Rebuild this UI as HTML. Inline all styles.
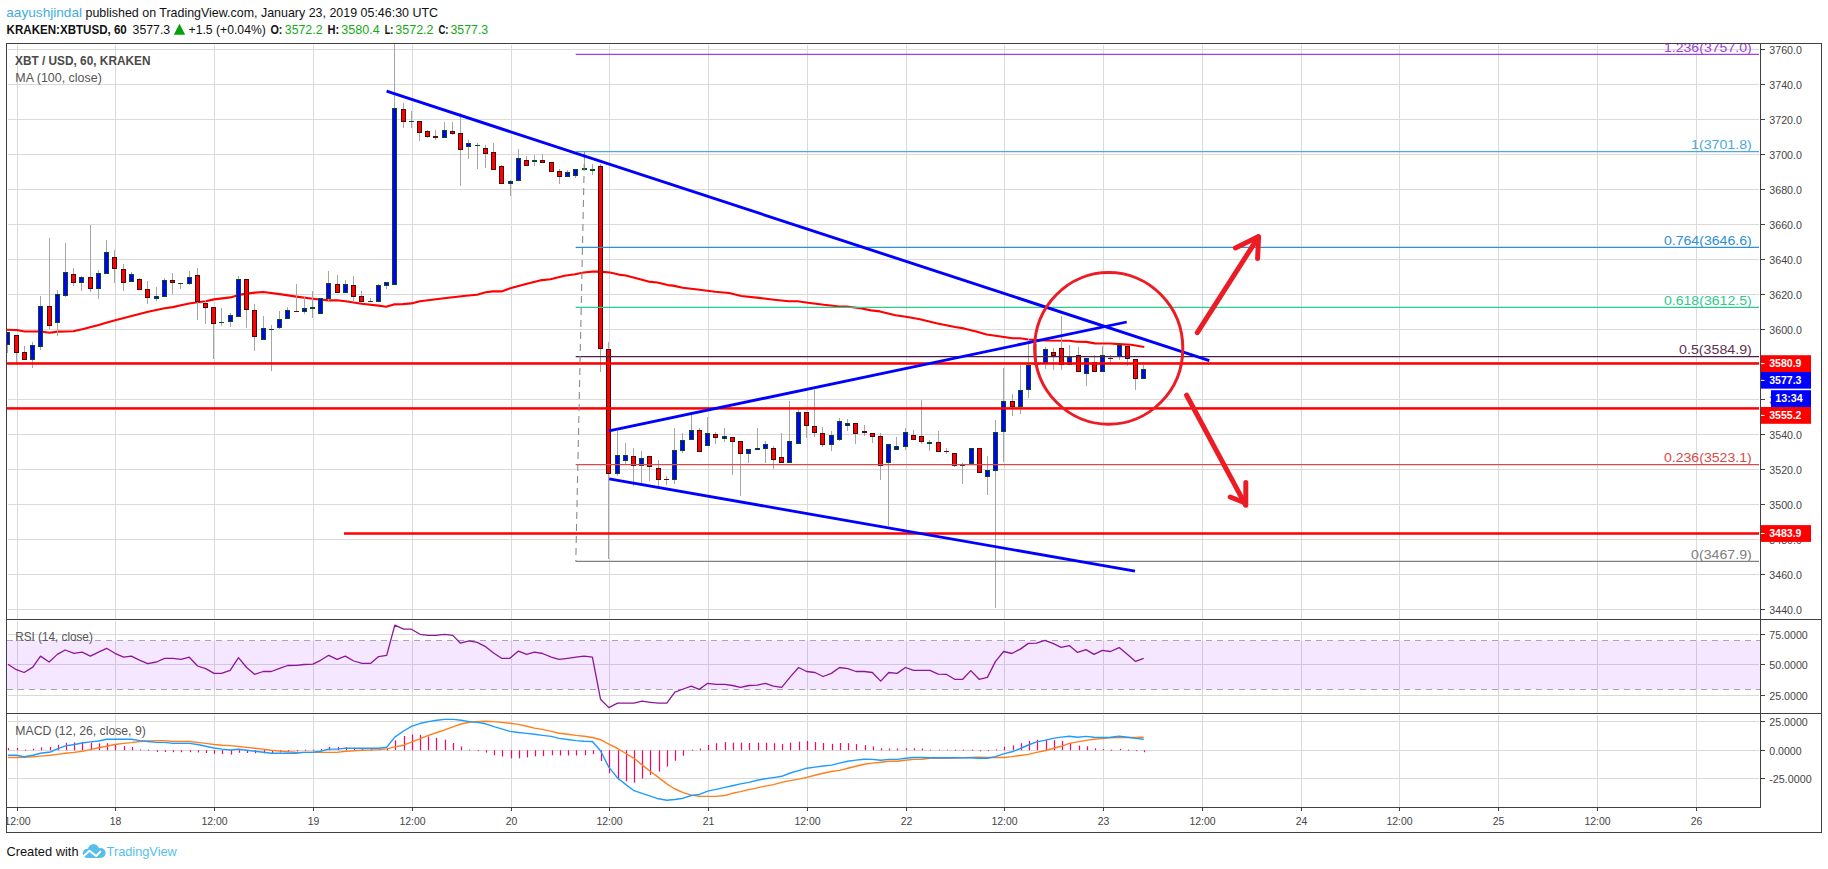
<!DOCTYPE html>
<html><head><meta charset="utf-8"><title>XBTUSD chart</title>
<style>html,body{margin:0;padding:0;background:#fff;overflow:hidden}svg{display:block}text{white-space:pre}</style></head>
<body>
<svg width="1828" height="869" viewBox="0 0 1828 869" style="display:block" shape-rendering="auto">
<rect x="0" y="0" width="1828" height="869" fill="#fff"/>
<defs><clipPath id="mc"><rect x="7" y="44" width="1753" height="575"/></clipPath></defs>
<rect x="17" y="45" width="1" height="574" fill="#dadada"/>
<rect x="17" y="621" width="1" height="92" fill="#dadada"/>
<rect x="17" y="715" width="1" height="92" fill="#dadada"/>
<rect x="115" y="45" width="1" height="574" fill="#dadada"/>
<rect x="115" y="621" width="1" height="92" fill="#dadada"/>
<rect x="115" y="715" width="1" height="92" fill="#dadada"/>
<rect x="214" y="45" width="1" height="574" fill="#dadada"/>
<rect x="214" y="621" width="1" height="92" fill="#dadada"/>
<rect x="214" y="715" width="1" height="92" fill="#dadada"/>
<rect x="313" y="45" width="1" height="574" fill="#dadada"/>
<rect x="313" y="621" width="1" height="92" fill="#dadada"/>
<rect x="313" y="715" width="1" height="92" fill="#dadada"/>
<rect x="412" y="45" width="1" height="574" fill="#dadada"/>
<rect x="412" y="621" width="1" height="92" fill="#dadada"/>
<rect x="412" y="715" width="1" height="92" fill="#dadada"/>
<rect x="511" y="45" width="1" height="574" fill="#dadada"/>
<rect x="511" y="621" width="1" height="92" fill="#dadada"/>
<rect x="511" y="715" width="1" height="92" fill="#dadada"/>
<rect x="609" y="45" width="1" height="574" fill="#dadada"/>
<rect x="609" y="621" width="1" height="92" fill="#dadada"/>
<rect x="609" y="715" width="1" height="92" fill="#dadada"/>
<rect x="708" y="45" width="1" height="574" fill="#dadada"/>
<rect x="708" y="621" width="1" height="92" fill="#dadada"/>
<rect x="708" y="715" width="1" height="92" fill="#dadada"/>
<rect x="807" y="45" width="1" height="574" fill="#dadada"/>
<rect x="807" y="621" width="1" height="92" fill="#dadada"/>
<rect x="807" y="715" width="1" height="92" fill="#dadada"/>
<rect x="906" y="45" width="1" height="574" fill="#dadada"/>
<rect x="906" y="621" width="1" height="92" fill="#dadada"/>
<rect x="906" y="715" width="1" height="92" fill="#dadada"/>
<rect x="1004" y="45" width="1" height="574" fill="#dadada"/>
<rect x="1004" y="621" width="1" height="92" fill="#dadada"/>
<rect x="1004" y="715" width="1" height="92" fill="#dadada"/>
<rect x="1103" y="45" width="1" height="574" fill="#dadada"/>
<rect x="1103" y="621" width="1" height="92" fill="#dadada"/>
<rect x="1103" y="715" width="1" height="92" fill="#dadada"/>
<rect x="1202" y="45" width="1" height="574" fill="#dadada"/>
<rect x="1202" y="621" width="1" height="92" fill="#dadada"/>
<rect x="1202" y="715" width="1" height="92" fill="#dadada"/>
<rect x="1301" y="45" width="1" height="574" fill="#dadada"/>
<rect x="1301" y="621" width="1" height="92" fill="#dadada"/>
<rect x="1301" y="715" width="1" height="92" fill="#dadada"/>
<rect x="1399" y="45" width="1" height="574" fill="#dadada"/>
<rect x="1399" y="621" width="1" height="92" fill="#dadada"/>
<rect x="1399" y="715" width="1" height="92" fill="#dadada"/>
<rect x="1498" y="45" width="1" height="574" fill="#dadada"/>
<rect x="1498" y="621" width="1" height="92" fill="#dadada"/>
<rect x="1498" y="715" width="1" height="92" fill="#dadada"/>
<rect x="1597" y="45" width="1" height="574" fill="#dadada"/>
<rect x="1597" y="621" width="1" height="92" fill="#dadada"/>
<rect x="1597" y="715" width="1" height="92" fill="#dadada"/>
<rect x="1696" y="45" width="1" height="574" fill="#dadada"/>
<rect x="1696" y="621" width="1" height="92" fill="#dadada"/>
<rect x="1696" y="715" width="1" height="92" fill="#dadada"/>
<rect x="8" y="609" width="1751" height="1" fill="#dadada"/>
<rect x="8" y="574" width="1751" height="1" fill="#dadada"/>
<rect x="8" y="539" width="1751" height="1" fill="#dadada"/>
<rect x="8" y="504" width="1751" height="1" fill="#dadada"/>
<rect x="8" y="469" width="1751" height="1" fill="#dadada"/>
<rect x="8" y="434" width="1751" height="1" fill="#dadada"/>
<rect x="8" y="399" width="1751" height="1" fill="#dadada"/>
<rect x="8" y="364" width="1751" height="1" fill="#dadada"/>
<rect x="8" y="329" width="1751" height="1" fill="#dadada"/>
<rect x="8" y="294" width="1751" height="1" fill="#dadada"/>
<rect x="8" y="259" width="1751" height="1" fill="#dadada"/>
<rect x="8" y="224" width="1751" height="1" fill="#dadada"/>
<rect x="8" y="189" width="1751" height="1" fill="#dadada"/>
<rect x="8" y="154" width="1751" height="1" fill="#dadada"/>
<rect x="8" y="119" width="1751" height="1" fill="#dadada"/>
<rect x="8" y="84" width="1751" height="1" fill="#dadada"/>
<rect x="8" y="49" width="1751" height="1" fill="#dadada"/>
<rect x="8" y="634" width="1751" height="1" fill="#dadada"/>
<rect x="8" y="664" width="1751" height="1" fill="#dadada"/>
<rect x="8" y="695" width="1751" height="1" fill="#dadada"/>
<rect x="8" y="721" width="1751" height="1" fill="#dadada"/>
<rect x="8" y="750" width="1751" height="1" fill="#dadada"/>
<rect x="8" y="778" width="1751" height="1" fill="#dadada"/>
<rect x="7" y="640.6" width="1753" height="49.2" fill="#9915ff" fill-opacity="0.1"/>
<path d="M7 640.5H1760M7 689.5H1760" stroke="#a9a4ad" stroke-width="1" stroke-dasharray="6 5" fill="none"/>
<path d="M6.6 329.8 L16.5 330.0 L24.7 331.5 L41.1 331.5 L49.4 332.8 L57.6 331.6 L73.2 331.3 L82.3 329.2 L98.7 325.0 L107.0 322.4 L115.2 320.3 L131.6 316.0 L148.1 311.7 L164.6 308.3 L172.8 307.1 L181.0 305.3 L189.2 303.5 L197.5 302.3 L205.7 301.2 L213.9 299.4 L230.4 297.4 L238.6 294.9 L246.8 293.6 L255.1 292.6 L263.3 292.0 L279.7 294.1 L296.4 296.6 L312.8 298.7 L328.7 300.4 L336.9 300.3 L345.6 301.3 L361.5 303.7 L378.5 305.6 L386.1 306.7 L393.8 304.4 L402.5 304.1 L411.3 303.4 L420.0 301.2 L444.1 298.2 L466.0 295.7 L477.0 294.7 L485.8 292.3 L492.8 291.4 L501.5 291.4 L510.3 288.3 L526.0 283.9 L540.0 280.4 L550.5 279.2 L564.5 275.7 L575.0 274.3 L583.8 272.5 L592.5 271.6 L599.5 271.6 L610.0 272.5 L618.8 274.6 L625.8 275.5 L636.3 278.3 L648.6 281.6 L657.3 282.5 L667.8 285.1 L673.1 285.6 L682.7 287.7 L697.6 289.5 L715.1 291.8 L729.1 293.0 L741.3 296.0 L758.8 297.9 L776.3 300.0 L788.8 301.3 L797.5 301.3 L808.0 302.7 L823.8 304.8 L839.5 306.5 L846.5 306.5 L860.5 308.3 L871.0 310.4 L879.8 311.4 L895.5 315.3 L906.0 316.7 L920.0 319.3 L937.5 323.5 L955.1 327.0 L963.8 328.4 L976.1 331.4 L986.6 334.5 L998.8 336.3 L1012.6 338.3 L1019.9 338.3 L1028.3 339.5 L1045.2 340.5 L1069.4 340.7 L1076.7 341.7 L1086.3 341.9 L1094.8 343.4 L1110.5 343.5 L1118.9 344.1 L1131.0 344.7 L1144.3 347.0" stroke="#ff0000" stroke-width="2.1" fill="none" stroke-linejoin="round"/>
<g clip-path="url(#mc)">
<rect x="7" y="332" width="1" height="21" fill="#a6a6a6"/>
<rect x="16" y="335" width="1" height="30" fill="#a6a6a6"/>
<rect x="24" y="346" width="1" height="14" fill="#a6a6a6"/>
<rect x="32" y="342" width="1" height="26" fill="#a6a6a6"/>
<rect x="40" y="296" width="1" height="54" fill="#a6a6a6"/>
<rect x="49" y="238" width="1" height="91" fill="#a6a6a6"/>
<rect x="57" y="290" width="1" height="46" fill="#a6a6a6"/>
<rect x="65" y="243" width="1" height="54" fill="#a6a6a6"/>
<rect x="73" y="268" width="1" height="18" fill="#a6a6a6"/>
<rect x="81" y="276" width="1" height="15" fill="#a6a6a6"/>
<rect x="90" y="225" width="1" height="67" fill="#a6a6a6"/>
<rect x="98" y="270" width="1" height="29" fill="#a6a6a6"/>
<rect x="106" y="240" width="1" height="34" fill="#a6a6a6"/>
<rect x="114" y="250" width="1" height="33" fill="#a6a6a6"/>
<rect x="123" y="264" width="1" height="27" fill="#a6a6a6"/>
<rect x="131" y="272" width="1" height="10" fill="#a6a6a6"/>
<rect x="139" y="278" width="1" height="12" fill="#a6a6a6"/>
<rect x="147" y="281" width="1" height="23" fill="#a6a6a6"/>
<rect x="156" y="287" width="1" height="14" fill="#a6a6a6"/>
<rect x="164" y="278" width="1" height="19" fill="#a6a6a6"/>
<rect x="172" y="273" width="1" height="21" fill="#a6a6a6"/>
<rect x="180" y="283" width="1" height="6" fill="#a6a6a6"/>
<rect x="189" y="271" width="1" height="14" fill="#a6a6a6"/>
<rect x="197" y="268" width="1" height="52" fill="#a6a6a6"/>
<rect x="205" y="300" width="1" height="24" fill="#a6a6a6"/>
<rect x="213" y="307" width="1" height="52" fill="#a6a6a6"/>
<rect x="221" y="308" width="1" height="18" fill="#a6a6a6"/>
<rect x="230" y="313" width="1" height="14" fill="#a6a6a6"/>
<rect x="238" y="276" width="1" height="41" fill="#a6a6a6"/>
<rect x="246" y="279" width="1" height="49" fill="#a6a6a6"/>
<rect x="254" y="304" width="1" height="47" fill="#a6a6a6"/>
<rect x="263" y="316" width="1" height="24" fill="#a6a6a6"/>
<rect x="271" y="325" width="1" height="46" fill="#a6a6a6"/>
<rect x="279" y="311" width="1" height="18" fill="#a6a6a6"/>
<rect x="287" y="307" width="1" height="12" fill="#a6a6a6"/>
<rect x="296" y="284" width="1" height="28" fill="#a6a6a6"/>
<rect x="304" y="297" width="1" height="17" fill="#a6a6a6"/>
<rect x="312" y="291" width="1" height="27" fill="#a6a6a6"/>
<rect x="320" y="298" width="1" height="16" fill="#a6a6a6"/>
<rect x="328" y="271" width="1" height="30" fill="#a6a6a6"/>
<rect x="337" y="275" width="1" height="18" fill="#a6a6a6"/>
<rect x="345" y="280" width="1" height="13" fill="#a6a6a6"/>
<rect x="353" y="276" width="1" height="25" fill="#a6a6a6"/>
<rect x="361" y="291" width="1" height="11" fill="#a6a6a6"/>
<rect x="370" y="298" width="1" height="4" fill="#a6a6a6"/>
<rect x="378" y="284" width="1" height="18" fill="#a6a6a6"/>
<rect x="386" y="282" width="1" height="7" fill="#a6a6a6"/>
<rect x="394" y="44" width="1" height="241" fill="#a6a6a6"/>
<rect x="403" y="103" width="1" height="25" fill="#a6a6a6"/>
<rect x="411" y="111" width="1" height="17" fill="#a6a6a6"/>
<rect x="419" y="121" width="1" height="20" fill="#a6a6a6"/>
<rect x="427" y="130" width="1" height="8" fill="#a6a6a6"/>
<rect x="435" y="130" width="1" height="10" fill="#a6a6a6"/>
<rect x="444" y="122" width="1" height="16" fill="#a6a6a6"/>
<rect x="452" y="122" width="1" height="13" fill="#a6a6a6"/>
<rect x="460" y="113" width="1" height="73" fill="#a6a6a6"/>
<rect x="468" y="140" width="1" height="19" fill="#a6a6a6"/>
<rect x="477" y="143" width="1" height="26" fill="#a6a6a6"/>
<rect x="485" y="145" width="1" height="23" fill="#a6a6a6"/>
<rect x="493" y="143" width="1" height="27" fill="#a6a6a6"/>
<rect x="501" y="165" width="1" height="19" fill="#a6a6a6"/>
<rect x="510" y="180" width="1" height="16" fill="#a6a6a6"/>
<rect x="518" y="149" width="1" height="32" fill="#a6a6a6"/>
<rect x="526" y="156" width="1" height="10" fill="#a6a6a6"/>
<rect x="534" y="155" width="1" height="11" fill="#a6a6a6"/>
<rect x="542" y="154" width="1" height="9" fill="#a6a6a6"/>
<rect x="551" y="162" width="1" height="10" fill="#a6a6a6"/>
<rect x="559" y="169" width="1" height="15" fill="#a6a6a6"/>
<rect x="567" y="170" width="1" height="7" fill="#a6a6a6"/>
<rect x="575" y="169" width="1" height="9" fill="#a6a6a6"/>
<rect x="584" y="152" width="1" height="18" fill="#a6a6a6"/>
<rect x="592" y="164" width="1" height="11" fill="#a6a6a6"/>
<rect x="600" y="164" width="1" height="208" fill="#a6a6a6"/>
<rect x="608" y="342" width="1" height="217" fill="#a6a6a6"/>
<rect x="617" y="431" width="1" height="45" fill="#a6a6a6"/>
<rect x="625" y="443" width="1" height="21" fill="#a6a6a6"/>
<rect x="633" y="448" width="1" height="38" fill="#a6a6a6"/>
<rect x="641" y="451" width="1" height="35" fill="#a6a6a6"/>
<rect x="649" y="456" width="1" height="25" fill="#a6a6a6"/>
<rect x="658" y="460" width="1" height="26" fill="#a6a6a6"/>
<rect x="666" y="476" width="1" height="9" fill="#a6a6a6"/>
<rect x="674" y="428" width="1" height="56" fill="#a6a6a6"/>
<rect x="682" y="433" width="1" height="20" fill="#a6a6a6"/>
<rect x="691" y="415" width="1" height="25" fill="#a6a6a6"/>
<rect x="699" y="428" width="1" height="24" fill="#a6a6a6"/>
<rect x="707" y="417" width="1" height="29" fill="#a6a6a6"/>
<rect x="715" y="432" width="1" height="12" fill="#a6a6a6"/>
<rect x="724" y="428" width="1" height="14" fill="#a6a6a6"/>
<rect x="732" y="437" width="1" height="38" fill="#a6a6a6"/>
<rect x="740" y="441" width="1" height="55" fill="#a6a6a6"/>
<rect x="748" y="449" width="1" height="14" fill="#a6a6a6"/>
<rect x="757" y="428" width="1" height="22" fill="#a6a6a6"/>
<rect x="765" y="441" width="1" height="22" fill="#a6a6a6"/>
<rect x="773" y="446" width="1" height="23" fill="#a6a6a6"/>
<rect x="781" y="433" width="1" height="30" fill="#a6a6a6"/>
<rect x="789" y="401" width="1" height="62" fill="#a6a6a6"/>
<rect x="798" y="409" width="1" height="35" fill="#a6a6a6"/>
<rect x="806" y="412" width="1" height="26" fill="#a6a6a6"/>
<rect x="814" y="390" width="1" height="47" fill="#a6a6a6"/>
<rect x="822" y="427" width="1" height="20" fill="#a6a6a6"/>
<rect x="831" y="431" width="1" height="20" fill="#a6a6a6"/>
<rect x="839" y="418" width="1" height="23" fill="#a6a6a6"/>
<rect x="847" y="419" width="1" height="12" fill="#a6a6a6"/>
<rect x="855" y="423" width="1" height="21" fill="#a6a6a6"/>
<rect x="864" y="425" width="1" height="11" fill="#a6a6a6"/>
<rect x="872" y="433" width="1" height="10" fill="#a6a6a6"/>
<rect x="880" y="433" width="1" height="47" fill="#a6a6a6"/>
<rect x="888" y="444" width="1" height="82" fill="#a6a6a6"/>
<rect x="896" y="437" width="1" height="13" fill="#a6a6a6"/>
<rect x="905" y="428" width="1" height="22" fill="#a6a6a6"/>
<rect x="913" y="430" width="1" height="10" fill="#a6a6a6"/>
<rect x="921" y="400" width="1" height="44" fill="#a6a6a6"/>
<rect x="929" y="440" width="1" height="11" fill="#a6a6a6"/>
<rect x="938" y="431" width="1" height="21" fill="#a6a6a6"/>
<rect x="946" y="448" width="1" height="6" fill="#a6a6a6"/>
<rect x="954" y="453" width="1" height="14" fill="#a6a6a6"/>
<rect x="962" y="463" width="1" height="21" fill="#a6a6a6"/>
<rect x="971" y="448" width="1" height="16" fill="#a6a6a6"/>
<rect x="979" y="448" width="1" height="25" fill="#a6a6a6"/>
<rect x="987" y="456" width="1" height="39" fill="#a6a6a6"/>
<rect x="995" y="420" width="1" height="188" fill="#a6a6a6"/>
<rect x="1003" y="368" width="1" height="94" fill="#a6a6a6"/>
<rect x="1012" y="394" width="1" height="22" fill="#a6a6a6"/>
<rect x="1020" y="365" width="1" height="49" fill="#a6a6a6"/>
<rect x="1028" y="339" width="1" height="59" fill="#a6a6a6"/>
<rect x="1036" y="344" width="1" height="21" fill="#a6a6a6"/>
<rect x="1045" y="347" width="1" height="22" fill="#a6a6a6"/>
<rect x="1053" y="348" width="1" height="22" fill="#a6a6a6"/>
<rect x="1061" y="316" width="1" height="54" fill="#a6a6a6"/>
<rect x="1069" y="345" width="1" height="20" fill="#a6a6a6"/>
<rect x="1078" y="347" width="1" height="25" fill="#a6a6a6"/>
<rect x="1086" y="358" width="1" height="28" fill="#a6a6a6"/>
<rect x="1094" y="355" width="1" height="17" fill="#a6a6a6"/>
<rect x="1102" y="346" width="1" height="26" fill="#a6a6a6"/>
<rect x="1110" y="355" width="1" height="10" fill="#a6a6a6"/>
<rect x="1119" y="345" width="1" height="15" fill="#a6a6a6"/>
<rect x="1127" y="346" width="1" height="20" fill="#a6a6a6"/>
<rect x="1135" y="359" width="1" height="31" fill="#a6a6a6"/>
<rect x="1143" y="365" width="1" height="14" fill="#a6a6a6"/>
<rect x="5" y="332" width="5" height="13" fill="#0b4a22"/><rect x="6" y="333" width="3" height="11" fill="#0000ff"/>
<rect x="14" y="335" width="5" height="18" fill="#4a0808"/><rect x="15" y="336" width="3" height="16" fill="#ff0000"/>
<rect x="22" y="352" width="5" height="8" fill="#4a0808"/><rect x="23" y="353" width="3" height="6" fill="#ff0000"/>
<rect x="30" y="345" width="5" height="15" fill="#0b4a22"/><rect x="31" y="346" width="3" height="13" fill="#0000ff"/>
<rect x="38" y="306" width="5" height="41" fill="#0b4a22"/><rect x="39" y="307" width="3" height="39" fill="#0000ff"/>
<rect x="47" y="306" width="5" height="20" fill="#4a0808"/><rect x="48" y="307" width="3" height="18" fill="#ff0000"/>
<rect x="55" y="294" width="5" height="29" fill="#0b4a22"/><rect x="56" y="295" width="3" height="27" fill="#0000ff"/>
<rect x="63" y="272" width="5" height="24" fill="#0b4a22"/><rect x="64" y="273" width="3" height="22" fill="#0000ff"/>
<rect x="71" y="274" width="5" height="9" fill="#4a0808"/><rect x="72" y="275" width="3" height="7" fill="#ff0000"/>
<rect x="79" y="277" width="5" height="6" fill="#0b4a22"/><rect x="80" y="278" width="3" height="4" fill="#0000ff"/>
<rect x="88" y="277" width="5" height="12" fill="#4a0808"/><rect x="89" y="278" width="3" height="10" fill="#ff0000"/>
<rect x="96" y="273" width="5" height="16" fill="#0b4a22"/><rect x="97" y="274" width="3" height="14" fill="#0000ff"/>
<rect x="104" y="252" width="5" height="22" fill="#0b4a22"/><rect x="105" y="253" width="3" height="20" fill="#0000ff"/>
<rect x="112" y="257" width="5" height="12" fill="#4a0808"/><rect x="113" y="258" width="3" height="10" fill="#ff0000"/>
<rect x="121" y="269" width="5" height="14" fill="#4a0808"/><rect x="122" y="270" width="3" height="12" fill="#ff0000"/>
<rect x="129" y="274" width="5" height="8" fill="#0b4a22"/><rect x="130" y="275" width="3" height="6" fill="#0000ff"/>
<rect x="137" y="279" width="5" height="11" fill="#4a0808"/><rect x="138" y="280" width="3" height="9" fill="#ff0000"/>
<rect x="145" y="289" width="5" height="9" fill="#4a0808"/><rect x="146" y="290" width="3" height="7" fill="#ff0000"/>
<rect x="154" y="296" width="5" height="3" fill="#0b4a22"/><rect x="155" y="297" width="3" height="1" fill="#0000ff"/>
<rect x="162" y="280" width="5" height="17" fill="#0b4a22"/><rect x="163" y="281" width="3" height="15" fill="#0000ff"/>
<rect x="170" y="280" width="5" height="3" fill="#4a0808"/><rect x="171" y="281" width="3" height="1" fill="#ff0000"/>
<rect x="178" y="283" width="5" height="1" fill="#0b4a22"/>
<rect x="187" y="277" width="5" height="7" fill="#0b4a22"/><rect x="188" y="278" width="3" height="5" fill="#0000ff"/>
<rect x="195" y="275" width="5" height="27" fill="#4a0808"/><rect x="196" y="276" width="3" height="25" fill="#ff0000"/>
<rect x="203" y="303" width="5" height="5" fill="#4a0808"/><rect x="204" y="304" width="3" height="3" fill="#ff0000"/>
<rect x="211" y="307" width="5" height="17" fill="#4a0808"/><rect x="212" y="308" width="3" height="15" fill="#ff0000"/>
<rect x="219" y="322" width="5" height="1" fill="#0b4a22"/>
<rect x="228" y="315" width="5" height="7" fill="#0b4a22"/><rect x="229" y="316" width="3" height="5" fill="#0000ff"/>
<rect x="236" y="279" width="5" height="38" fill="#0b4a22"/><rect x="237" y="280" width="3" height="36" fill="#0000ff"/>
<rect x="244" y="279" width="5" height="31" fill="#4a0808"/><rect x="245" y="280" width="3" height="29" fill="#ff0000"/>
<rect x="252" y="310" width="5" height="27" fill="#4a0808"/><rect x="253" y="311" width="3" height="25" fill="#ff0000"/>
<rect x="261" y="328" width="5" height="12" fill="#0b4a22"/><rect x="262" y="329" width="3" height="10" fill="#0000ff"/>
<rect x="269" y="329" width="5" height="1" fill="#0b4a22"/>
<rect x="277" y="319" width="5" height="9" fill="#0b4a22"/><rect x="278" y="320" width="3" height="7" fill="#0000ff"/>
<rect x="285" y="310" width="5" height="9" fill="#0b4a22"/><rect x="286" y="311" width="3" height="7" fill="#0000ff"/>
<rect x="294" y="311" width="5" height="1" fill="#5a0a0a"/>
<rect x="302" y="308" width="5" height="4" fill="#0b4a22"/><rect x="303" y="309" width="3" height="2" fill="#0000ff"/>
<rect x="310" y="307" width="5" height="2" fill="#0b4a22"/>
<rect x="318" y="298" width="5" height="16" fill="#0b4a22"/><rect x="319" y="299" width="3" height="14" fill="#0000ff"/>
<rect x="326" y="283" width="5" height="16" fill="#0b4a22"/><rect x="327" y="284" width="3" height="14" fill="#0000ff"/>
<rect x="335" y="284" width="5" height="9" fill="#4a0808"/><rect x="336" y="285" width="3" height="7" fill="#ff0000"/>
<rect x="343" y="284" width="5" height="9" fill="#0b4a22"/><rect x="344" y="285" width="3" height="7" fill="#0000ff"/>
<rect x="351" y="285" width="5" height="12" fill="#4a0808"/><rect x="352" y="286" width="3" height="10" fill="#ff0000"/>
<rect x="359" y="296" width="5" height="6" fill="#4a0808"/><rect x="360" y="297" width="3" height="4" fill="#ff0000"/>
<rect x="368" y="301" width="5" height="1" fill="#0b4a22"/>
<rect x="376" y="285" width="5" height="17" fill="#0b4a22"/><rect x="377" y="286" width="3" height="15" fill="#0000ff"/>
<rect x="384" y="282" width="5" height="4" fill="#0b4a22"/><rect x="385" y="283" width="3" height="2" fill="#0000ff"/>
<rect x="392" y="108" width="5" height="177" fill="#0b4a22"/><rect x="393" y="109" width="3" height="175" fill="#0000ff"/>
<rect x="401" y="109" width="5" height="13" fill="#4a0808"/><rect x="402" y="110" width="3" height="11" fill="#ff0000"/>
<rect x="409" y="121" width="5" height="1" fill="#0b4a22"/>
<rect x="417" y="121" width="5" height="12" fill="#4a0808"/><rect x="418" y="122" width="3" height="10" fill="#ff0000"/>
<rect x="425" y="131" width="5" height="6" fill="#4a0808"/><rect x="426" y="132" width="3" height="4" fill="#ff0000"/>
<rect x="433" y="136" width="5" height="2" fill="#5a0a0a"/>
<rect x="442" y="130" width="5" height="8" fill="#0b4a22"/><rect x="443" y="131" width="3" height="6" fill="#0000ff"/>
<rect x="450" y="131" width="5" height="3" fill="#4a0808"/><rect x="451" y="132" width="3" height="1" fill="#ff0000"/>
<rect x="458" y="133" width="5" height="17" fill="#4a0808"/><rect x="459" y="134" width="3" height="15" fill="#ff0000"/>
<rect x="466" y="143" width="5" height="4" fill="#0b4a22"/><rect x="467" y="144" width="3" height="2" fill="#0000ff"/>
<rect x="475" y="145" width="5" height="1" fill="#0b4a22"/>
<rect x="483" y="148" width="5" height="6" fill="#4a0808"/><rect x="484" y="149" width="3" height="4" fill="#ff0000"/>
<rect x="491" y="152" width="5" height="18" fill="#4a0808"/><rect x="492" y="153" width="3" height="16" fill="#ff0000"/>
<rect x="499" y="166" width="5" height="18" fill="#4a0808"/><rect x="500" y="167" width="3" height="16" fill="#ff0000"/>
<rect x="508" y="181" width="5" height="3" fill="#0b4a22"/><rect x="509" y="182" width="3" height="1" fill="#0000ff"/>
<rect x="516" y="158" width="5" height="23" fill="#0b4a22"/><rect x="517" y="159" width="3" height="21" fill="#0000ff"/>
<rect x="524" y="160" width="5" height="6" fill="#4a0808"/><rect x="525" y="161" width="3" height="4" fill="#ff0000"/>
<rect x="532" y="160" width="5" height="2" fill="#0b4a22"/>
<rect x="540" y="160" width="5" height="3" fill="#4a0808"/><rect x="541" y="161" width="3" height="1" fill="#ff0000"/>
<rect x="549" y="162" width="5" height="10" fill="#4a0808"/><rect x="550" y="163" width="3" height="8" fill="#ff0000"/>
<rect x="557" y="171" width="5" height="6" fill="#4a0808"/><rect x="558" y="172" width="3" height="4" fill="#ff0000"/>
<rect x="565" y="172" width="5" height="5" fill="#0b4a22"/><rect x="566" y="173" width="3" height="3" fill="#0000ff"/>
<rect x="573" y="169" width="5" height="7" fill="#0b4a22"/><rect x="574" y="170" width="3" height="5" fill="#0000ff"/>
<rect x="582" y="168" width="5" height="2" fill="#0b4a22"/>
<rect x="590" y="169" width="5" height="2" fill="#0b4a22"/>
<rect x="598" y="166" width="5" height="183" fill="#4a0808"/><rect x="599" y="167" width="3" height="181" fill="#ff0000"/>
<rect x="606" y="349" width="5" height="125" fill="#4a0808"/><rect x="607" y="350" width="3" height="123" fill="#ff0000"/>
<rect x="615" y="455" width="5" height="19" fill="#0b4a22"/><rect x="616" y="456" width="3" height="17" fill="#0000ff"/>
<rect x="623" y="455" width="5" height="6" fill="#0b4a22"/><rect x="624" y="456" width="3" height="4" fill="#0000ff"/>
<rect x="631" y="456" width="5" height="10" fill="#4a0808"/><rect x="632" y="457" width="3" height="8" fill="#ff0000"/>
<rect x="639" y="458" width="5" height="8" fill="#0b4a22"/><rect x="640" y="459" width="3" height="6" fill="#0000ff"/>
<rect x="647" y="456" width="5" height="11" fill="#4a0808"/><rect x="648" y="457" width="3" height="9" fill="#ff0000"/>
<rect x="656" y="468" width="5" height="12" fill="#4a0808"/><rect x="657" y="469" width="3" height="10" fill="#ff0000"/>
<rect x="664" y="479" width="5" height="1" fill="#5a0a0a"/>
<rect x="672" y="450" width="5" height="30" fill="#0b4a22"/><rect x="673" y="451" width="3" height="28" fill="#0000ff"/>
<rect x="680" y="440" width="5" height="11" fill="#0b4a22"/><rect x="681" y="441" width="3" height="9" fill="#0000ff"/>
<rect x="689" y="430" width="5" height="10" fill="#0b4a22"/><rect x="690" y="431" width="3" height="8" fill="#0000ff"/>
<rect x="697" y="430" width="5" height="22" fill="#4a0808"/><rect x="698" y="431" width="3" height="20" fill="#ff0000"/>
<rect x="705" y="433" width="5" height="13" fill="#0b4a22"/><rect x="706" y="434" width="3" height="11" fill="#0000ff"/>
<rect x="713" y="434" width="5" height="4" fill="#4a0808"/><rect x="714" y="435" width="3" height="2" fill="#ff0000"/>
<rect x="722" y="436" width="5" height="3" fill="#0b4a22"/><rect x="723" y="437" width="3" height="1" fill="#0000ff"/>
<rect x="730" y="437" width="5" height="5" fill="#4a0808"/><rect x="731" y="438" width="3" height="3" fill="#ff0000"/>
<rect x="738" y="441" width="5" height="13" fill="#4a0808"/><rect x="739" y="442" width="3" height="11" fill="#ff0000"/>
<rect x="746" y="449" width="5" height="5" fill="#0b4a22"/><rect x="747" y="450" width="3" height="3" fill="#0000ff"/>
<rect x="755" y="448" width="5" height="2" fill="#0b4a22"/><rect x="756" y="448.5" width="3" height="1" fill="#0000ff"/>
<rect x="763" y="444" width="5" height="5" fill="#0b4a22"/><rect x="764" y="445" width="3" height="3" fill="#0000ff"/>
<rect x="771" y="448" width="5" height="12" fill="#4a0808"/><rect x="772" y="449" width="3" height="10" fill="#ff0000"/>
<rect x="779" y="457" width="5" height="6" fill="#4a0808"/><rect x="780" y="458" width="3" height="4" fill="#ff0000"/>
<rect x="787" y="441" width="5" height="22" fill="#0b4a22"/><rect x="788" y="442" width="3" height="20" fill="#0000ff"/>
<rect x="796" y="412" width="5" height="32" fill="#0b4a22"/><rect x="797" y="413" width="3" height="30" fill="#0000ff"/>
<rect x="804" y="412" width="5" height="14" fill="#4a0808"/><rect x="805" y="413" width="3" height="12" fill="#ff0000"/>
<rect x="812" y="426" width="5" height="7" fill="#4a0808"/><rect x="813" y="427" width="3" height="5" fill="#ff0000"/>
<rect x="820" y="433" width="5" height="12" fill="#4a0808"/><rect x="821" y="434" width="3" height="10" fill="#ff0000"/>
<rect x="829" y="435" width="5" height="10" fill="#0b4a22"/><rect x="830" y="436" width="3" height="8" fill="#0000ff"/>
<rect x="837" y="421" width="5" height="19" fill="#0b4a22"/><rect x="838" y="422" width="3" height="17" fill="#0000ff"/>
<rect x="845" y="423" width="5" height="3" fill="#0b4a22"/><rect x="846" y="424" width="3" height="1" fill="#0000ff"/>
<rect x="853" y="423" width="5" height="11" fill="#4a0808"/><rect x="854" y="424" width="3" height="9" fill="#ff0000"/>
<rect x="862" y="431" width="5" height="2" fill="#5a0a0a"/>
<rect x="870" y="433" width="5" height="4" fill="#4a0808"/><rect x="871" y="434" width="3" height="2" fill="#ff0000"/>
<rect x="878" y="436" width="5" height="30" fill="#4a0808"/><rect x="879" y="437" width="3" height="28" fill="#ff0000"/>
<rect x="886" y="444" width="5" height="19" fill="#0b4a22"/><rect x="887" y="445" width="3" height="17" fill="#0000ff"/>
<rect x="894" y="446" width="5" height="4" fill="#0b4a22"/><rect x="895" y="447" width="3" height="2" fill="#0000ff"/>
<rect x="903" y="432" width="5" height="15" fill="#0b4a22"/><rect x="904" y="433" width="3" height="13" fill="#0000ff"/>
<rect x="911" y="435" width="5" height="5" fill="#4a0808"/><rect x="912" y="436" width="3" height="3" fill="#ff0000"/>
<rect x="919" y="436" width="5" height="6" fill="#4a0808"/><rect x="920" y="437" width="3" height="4" fill="#ff0000"/>
<rect x="927" y="442" width="5" height="2" fill="#0b4a22"/>
<rect x="936" y="442" width="5" height="10" fill="#4a0808"/><rect x="937" y="443" width="3" height="8" fill="#ff0000"/>
<rect x="944" y="451" width="5" height="1" fill="#5a0a0a"/>
<rect x="952" y="453" width="5" height="13" fill="#4a0808"/><rect x="953" y="454" width="3" height="11" fill="#ff0000"/>
<rect x="960" y="465" width="5" height="1" fill="#0b4a22"/>
<rect x="969" y="448" width="5" height="16" fill="#0b4a22"/><rect x="970" y="449" width="3" height="14" fill="#0000ff"/>
<rect x="977" y="448" width="5" height="25" fill="#4a0808"/><rect x="978" y="449" width="3" height="23" fill="#ff0000"/>
<rect x="985" y="470" width="5" height="7" fill="#0b4a22"/><rect x="986" y="471" width="3" height="5" fill="#0000ff"/>
<rect x="993" y="432" width="5" height="39" fill="#0b4a22"/><rect x="994" y="433" width="3" height="37" fill="#0000ff"/>
<rect x="1001" y="401" width="5" height="31" fill="#0b4a22"/><rect x="1002" y="402" width="3" height="29" fill="#0000ff"/>
<rect x="1010" y="401" width="5" height="6" fill="#4a0808"/><rect x="1011" y="402" width="3" height="4" fill="#ff0000"/>
<rect x="1018" y="390" width="5" height="17" fill="#0b4a22"/><rect x="1019" y="391" width="3" height="15" fill="#0000ff"/>
<rect x="1026" y="365" width="5" height="25" fill="#0b4a22"/><rect x="1027" y="366" width="3" height="23" fill="#0000ff"/>
<rect x="1034" y="364" width="5" height="1" fill="#0b4a22"/>
<rect x="1043" y="349" width="5" height="15" fill="#0b4a22"/><rect x="1044" y="350" width="3" height="13" fill="#0000ff"/>
<rect x="1051" y="352" width="5" height="4" fill="#4a0808"/><rect x="1052" y="353" width="3" height="2" fill="#ff0000"/>
<rect x="1059" y="348" width="5" height="17" fill="#4a0808"/><rect x="1060" y="349" width="3" height="15" fill="#ff0000"/>
<rect x="1067" y="357" width="5" height="8" fill="#0b4a22"/><rect x="1068" y="358" width="3" height="6" fill="#0000ff"/>
<rect x="1076" y="355" width="5" height="17" fill="#4a0808"/><rect x="1077" y="356" width="3" height="15" fill="#ff0000"/>
<rect x="1084" y="358" width="5" height="16" fill="#0b4a22"/><rect x="1085" y="359" width="3" height="14" fill="#0000ff"/>
<rect x="1092" y="362" width="5" height="10" fill="#4a0808"/><rect x="1093" y="363" width="3" height="8" fill="#ff0000"/>
<rect x="1100" y="355" width="5" height="17" fill="#0b4a22"/><rect x="1101" y="356" width="3" height="15" fill="#0000ff"/>
<rect x="1108" y="358" width="5" height="1" fill="#5a0a0a"/>
<rect x="1117" y="345" width="5" height="12" fill="#0b4a22"/><rect x="1118" y="346" width="3" height="10" fill="#0000ff"/>
<rect x="1125" y="346" width="5" height="13" fill="#4a0808"/><rect x="1126" y="347" width="3" height="11" fill="#ff0000"/>
<rect x="1133" y="359" width="5" height="20" fill="#4a0808"/><rect x="1134" y="360" width="3" height="18" fill="#ff0000"/>
<rect x="1141" y="369" width="5" height="10" fill="#0b4a22"/><rect x="1142" y="370" width="3" height="8" fill="#0000ff"/>
</g>
<rect x="6" y="362.2" width="1753" height="2.5" fill="#ff0000"/>
<rect x="6" y="407.15" width="1753" height="2.5" fill="#ff0000"/>
<rect x="344" y="532.25" width="1415" height="2.5" fill="#ff0000"/>
<g clip-path="url(#mc)">
<path d="M575.7 54.4H1759" stroke="#a040e0" stroke-width="1.25" fill="none"/>
<text x="1751.8" y="52.0" font-family="Liberation Sans, sans-serif" font-size="12.5" fill="#a040e0" text-anchor="end" textLength="87.9" lengthAdjust="spacingAndGlyphs">1.236(3757.0)</text>
<path d="M575.7 151.5H1759" stroke="#4fa8dc" stroke-width="1.25" fill="none"/>
<text x="1751.8" y="149.1" font-family="Liberation Sans, sans-serif" font-size="12.5" fill="#4fa8dc" text-anchor="end" textLength="60.7" lengthAdjust="spacingAndGlyphs">1(3701.8)</text>
<path d="M575.7 247.4H1759" stroke="#2e8fd3" stroke-width="1.25" fill="none"/>
<text x="1751.8" y="245.0" font-family="Liberation Sans, sans-serif" font-size="12.5" fill="#2e8fd3" text-anchor="end" textLength="87.9" lengthAdjust="spacingAndGlyphs">0.764(3646.6)</text>
<path d="M575.7 307.4H1759" stroke="#2fc98e" stroke-width="1.25" fill="none"/>
<text x="1751.8" y="305.0" font-family="Liberation Sans, sans-serif" font-size="12.5" fill="#2fc98e" text-anchor="end" textLength="87.9" lengthAdjust="spacingAndGlyphs">0.618(3612.5)</text>
<path d="M575.7 356.6H1759" stroke="#4d2048" stroke-width="1.25" fill="none"/>
<text x="1751.8" y="354.2" font-family="Liberation Sans, sans-serif" font-size="12.5" fill="#5e3152" text-anchor="end" textLength="72.7" lengthAdjust="spacingAndGlyphs">0.5(3584.9)</text>
<path d="M575.7 464.5H1759" stroke="#d84a4a" stroke-width="1.25" fill="none"/>
<text x="1751.8" y="462.1" font-family="Liberation Sans, sans-serif" font-size="12.5" fill="#d84a4a" text-anchor="end" textLength="87.9" lengthAdjust="spacingAndGlyphs">0.236(3523.1)</text>
<path d="M575.7 561.3H1759" stroke="#808080" stroke-width="1.25" fill="none"/>
<text x="1751.8" y="558.9" font-family="Liberation Sans, sans-serif" font-size="12.5" fill="#808080" text-anchor="end" textLength="60.7" lengthAdjust="spacingAndGlyphs">0(3467.9)</text>
</g>
<path d="M584.5 152L575.8 561.3" stroke="#8a8a8a" stroke-width="1.1" stroke-dasharray="7 5" fill="none"/>
<path d="M386.6 91.2L1209.3 360.7" stroke="#0000ff" stroke-width="2.9" fill="none"/>
<path d="M609 430.9L1126.7 322" stroke="#0000ff" stroke-width="2.8" fill="none"/>
<path d="M609.2 478.9L1135 571.1" stroke="#0000ff" stroke-width="2.8" fill="none"/>
<ellipse cx="1108.7" cy="348.4" rx="74.1" ry="75.9" stroke="#ec1c24" stroke-width="3.0" fill="none"/>
<g stroke="#ec1c24" stroke-width="5.0" fill="none" stroke-linecap="round" stroke-linejoin="round">
<path d="M1197.3 332.6L1258.3 237.2"/><path d="M1235.4 248L1258.6 236.6L1257.6 258.6"/>
<path d="M1186.6 395.2L1245.4 504.6"/><path d="M1245.8 482.6L1245.8 505.2"/><path d="M1230.2 497L1244.6 502.8"/>
</g>
<path d="M7.9 664.2 L16.4 669.7 L24.1 672.5 L32.8 667.1 L40.5 656.1 L49.2 662.0 L57.3 654.4 L65.2 650.0 L74.0 653.3 L82.1 652.2 L90.4 656.1 L98.5 652.2 L106.6 648.3 L114.9 653.3 L123.6 657.2 L131.3 656.1 L140.0 660.3 L147.7 663.6 L156.5 662.0 L164.6 658.3 L172.9 658.3 L181.0 659.4 L189.3 657.2 L197.6 666.0 L205.7 668.6 L214.0 673.4 L221.4 673.4 L230.2 670.4 L238.5 657.7 L246.6 667.5 L254.5 674.3 L263.2 671.5 L271.3 671.5 L279.6 668.4 L287.7 665.5 L296.1 665.3 L304.2 664.5 L312.9 664.2 L320.6 660.3 L328.7 655.3 L337.0 659.4 L345.3 656.1 L353.8 661.0 L362.1 663.4 L370.5 663.4 L378.6 656.6 L386.7 655.3 L394.8 625.1 L403.6 629.2 L411.4 629.2 L420.0 634.3 L428.3 635.4 L436.0 635.4 L444.7 634.3 L452.8 635.4 L460.5 643.2 L469.2 640.8 L477.1 642.4 L485.6 646.7 L493.9 653.3 L501.6 658.3 L509.9 658.3 L518.4 651.1 L526.8 654.4 L534.4 652.2 L542.5 653.5 L551.3 657.2 L559.1 659.4 L567.7 658.3 L576.0 657.2 L584.1 656.1 L592.4 657.2 L600.5 699.2 L608.8 707.6 L617.6 703.2 L625.2 703.2 L634.0 703.2 L642.1 701.2 L650.4 702.3 L658.5 703.2 L666.8 703.2 L674.9 692.2 L683.2 689.0 L691.3 686.1 L699.2 689.4 L707.7 683.3 L716.0 684.4 L724.8 684.4 L732.5 685.5 L740.5 687.4 L748.9 685.5 L757.2 685.2 L765.3 683.3 L773.4 686.1 L781.7 687.4 L790.3 676.9 L798.6 667.5 L806.7 671.5 L815.0 672.5 L823.1 676.5 L831.4 673.4 L839.5 667.5 L847.8 668.6 L855.9 671.5 L864.2 671.5 L872.3 672.5 L880.7 681.1 L888.8 672.5 L897.1 673.4 L905.4 667.5 L913.5 670.4 L921.8 670.4 L929.9 670.4 L938.2 674.1 L946.3 674.3 L954.6 679.3 L962.7 679.3 L970.8 670.6 L979.1 679.3 L987.4 677.4 L995.5 661.4 L1003.6 651.5 L1011.9 653.5 L1020.3 649.1 L1028.4 643.4 L1036.5 643.2 L1044.8 640.4 L1052.9 643.4 L1061.2 647.4 L1069.3 645.6 L1077.6 652.4 L1085.9 649.6 L1094.0 654.4 L1102.3 650.4 L1110.4 651.5 L1119.2 647.6 L1127.5 654.4 L1135.6 661.4 L1143.7 658.3" stroke="#8e1599" stroke-width="1.3" fill="none" stroke-linejoin="round"/>
<rect x="7.9" y="748.0" width="1.2" height="2.2" fill="#ff0066"/>
<rect x="16.9" y="748.0" width="1.2" height="2.2" fill="#ff0066"/>
<rect x="24.9" y="749.7" width="1.2" height="1" fill="#ff0066"/>
<rect x="32.9" y="748.7" width="1.2" height="1.5" fill="#ff0066"/>
<rect x="40.9" y="747.4" width="1.2" height="2.8" fill="#ff0066"/>
<rect x="49.9" y="746.9" width="1.2" height="3.3" fill="#ff0066"/>
<rect x="57.9" y="744.8" width="1.2" height="5.5" fill="#ff0066"/>
<rect x="65.9" y="742.8" width="1.2" height="7.4" fill="#ff0066"/>
<rect x="73.9" y="742.4" width="1.2" height="7.9" fill="#ff0066"/>
<rect x="81.9" y="741.9" width="1.2" height="8.3" fill="#ff0066"/>
<rect x="90.9" y="742.6" width="1.2" height="7.7" fill="#ff0066"/>
<rect x="98.9" y="743.4" width="1.2" height="6.8" fill="#ff0066"/>
<rect x="106.9" y="743.2" width="1.2" height="7.0" fill="#ff0066"/>
<rect x="114.9" y="745.0" width="1.2" height="5.3" fill="#ff0066"/>
<rect x="123.9" y="746.1" width="1.2" height="4.2" fill="#ff0066"/>
<rect x="131.9" y="746.9" width="1.2" height="3.3" fill="#ff0066"/>
<rect x="139.9" y="749.4" width="1.2" height="0.9" fill="#ff0066"/>
<rect x="147.9" y="749.7" width="1.2" height="1" fill="#ff0066"/>
<rect x="156.9" y="750.2" width="1.2" height="1.8" fill="#ff0066"/>
<rect x="164.9" y="750.2" width="1.2" height="1.8" fill="#ff0066"/>
<rect x="172.9" y="750.2" width="1.2" height="2.0" fill="#ff0066"/>
<rect x="180.9" y="750.2" width="1.2" height="2.0" fill="#ff0066"/>
<rect x="189.9" y="750.2" width="1.2" height="2.0" fill="#ff0066"/>
<rect x="197.9" y="750.2" width="1.2" height="2.2" fill="#ff0066"/>
<rect x="205.9" y="750.2" width="1.2" height="2.8" fill="#ff0066"/>
<rect x="213.9" y="750.2" width="1.2" height="3.5" fill="#ff0066"/>
<rect x="221.9" y="750.2" width="1.2" height="3.9" fill="#ff0066"/>
<rect x="230.9" y="750.2" width="1.2" height="4.4" fill="#ff0066"/>
<rect x="238.9" y="750.2" width="1.2" height="2.6" fill="#ff0066"/>
<rect x="246.9" y="750.2" width="1.2" height="2.8" fill="#ff0066"/>
<rect x="254.9" y="750.2" width="1.2" height="3.1" fill="#ff0066"/>
<rect x="263.9" y="750.2" width="1.2" height="3.1" fill="#ff0066"/>
<rect x="271.9" y="750.2" width="1.2" height="3.1" fill="#ff0066"/>
<rect x="279.9" y="750.2" width="1.2" height="2.2" fill="#ff0066"/>
<rect x="287.9" y="750.2" width="1.2" height="1.5" fill="#ff0066"/>
<rect x="296.9" y="750.2" width="1.2" height="1.1" fill="#ff0066"/>
<rect x="304.9" y="749.7" width="1.2" height="1" fill="#ff0066"/>
<rect x="312.9" y="749.7" width="1.2" height="1" fill="#ff0066"/>
<rect x="320.9" y="749.1" width="1.2" height="1.1" fill="#ff0066"/>
<rect x="328.9" y="746.9" width="1.2" height="3.3" fill="#ff0066"/>
<rect x="337.9" y="746.9" width="1.2" height="3.3" fill="#ff0066"/>
<rect x="345.9" y="747.2" width="1.2" height="3.1" fill="#ff0066"/>
<rect x="353.9" y="747.8" width="1.2" height="2.4" fill="#ff0066"/>
<rect x="361.9" y="748.3" width="1.2" height="2.0" fill="#ff0066"/>
<rect x="370.9" y="748.5" width="1.2" height="1.8" fill="#ff0066"/>
<rect x="378.9" y="748.9" width="1.2" height="1.3" fill="#ff0066"/>
<rect x="386.9" y="748.5" width="1.2" height="1.8" fill="#ff0066"/>
<rect x="394.9" y="740.4" width="1.2" height="9.8" fill="#ff0066"/>
<rect x="403.9" y="736.0" width="1.2" height="14.2" fill="#ff0066"/>
<rect x="411.9" y="734.5" width="1.2" height="15.8" fill="#ff0066"/>
<rect x="419.9" y="734.9" width="1.2" height="15.3" fill="#ff0066"/>
<rect x="427.9" y="736.4" width="1.2" height="13.8" fill="#ff0066"/>
<rect x="435.9" y="738.0" width="1.2" height="12.3" fill="#ff0066"/>
<rect x="444.9" y="739.7" width="1.2" height="10.5" fill="#ff0066"/>
<rect x="452.9" y="743.0" width="1.2" height="7.2" fill="#ff0066"/>
<rect x="460.9" y="746.5" width="1.2" height="3.7" fill="#ff0066"/>
<rect x="468.9" y="749.6" width="1.2" height="0.7" fill="#ff0066"/>
<rect x="477.9" y="750.2" width="1.2" height="0.9" fill="#ff0066"/>
<rect x="485.9" y="750.2" width="1.2" height="2.4" fill="#ff0066"/>
<rect x="493.9" y="750.2" width="1.2" height="5.0" fill="#ff0066"/>
<rect x="501.9" y="750.2" width="1.2" height="6.3" fill="#ff0066"/>
<rect x="510.9" y="750.2" width="1.2" height="8.1" fill="#ff0066"/>
<rect x="518.9" y="750.2" width="1.2" height="8.1" fill="#ff0066"/>
<rect x="526.9" y="750.2" width="1.2" height="7.2" fill="#ff0066"/>
<rect x="534.9" y="750.2" width="1.2" height="6.1" fill="#ff0066"/>
<rect x="542.9" y="750.2" width="1.2" height="5.9" fill="#ff0066"/>
<rect x="551.9" y="750.2" width="1.2" height="5.0" fill="#ff0066"/>
<rect x="559.9" y="750.2" width="1.2" height="5.3" fill="#ff0066"/>
<rect x="567.9" y="750.2" width="1.2" height="5.3" fill="#ff0066"/>
<rect x="575.9" y="750.2" width="1.2" height="5.3" fill="#ff0066"/>
<rect x="584.9" y="750.2" width="1.2" height="5.0" fill="#ff0066"/>
<rect x="592.9" y="750.2" width="1.2" height="3.9" fill="#ff0066"/>
<rect x="600.9" y="750.2" width="1.2" height="10.9" fill="#ff0066"/>
<rect x="608.9" y="750.2" width="1.2" height="23.0" fill="#ff0066"/>
<rect x="617.9" y="750.2" width="1.2" height="29.5" fill="#ff0066"/>
<rect x="625.9" y="750.2" width="1.2" height="31.1" fill="#ff0066"/>
<rect x="633.9" y="750.2" width="1.2" height="32.4" fill="#ff0066"/>
<rect x="641.9" y="750.2" width="1.2" height="28.4" fill="#ff0066"/>
<rect x="649.9" y="750.2" width="1.2" height="24.7" fill="#ff0066"/>
<rect x="658.9" y="750.2" width="1.2" height="21.4" fill="#ff0066"/>
<rect x="666.9" y="750.2" width="1.2" height="16.4" fill="#ff0066"/>
<rect x="674.9" y="750.2" width="1.2" height="10.5" fill="#ff0066"/>
<rect x="682.9" y="750.2" width="1.2" height="5.5" fill="#ff0066"/>
<rect x="691.9" y="749.7" width="1.2" height="1" fill="#ff0066"/>
<rect x="699.9" y="748.5" width="1.2" height="1.8" fill="#ff0066"/>
<rect x="707.9" y="745.0" width="1.2" height="5.3" fill="#ff0066"/>
<rect x="715.9" y="743.2" width="1.2" height="7.0" fill="#ff0066"/>
<rect x="724.9" y="742.1" width="1.2" height="8.1" fill="#ff0066"/>
<rect x="732.9" y="742.6" width="1.2" height="7.7" fill="#ff0066"/>
<rect x="740.9" y="742.6" width="1.2" height="7.7" fill="#ff0066"/>
<rect x="748.9" y="743.0" width="1.2" height="7.2" fill="#ff0066"/>
<rect x="757.9" y="742.6" width="1.2" height="7.7" fill="#ff0066"/>
<rect x="765.9" y="742.8" width="1.2" height="7.4" fill="#ff0066"/>
<rect x="773.9" y="743.2" width="1.2" height="7.0" fill="#ff0066"/>
<rect x="781.9" y="744.1" width="1.2" height="6.1" fill="#ff0066"/>
<rect x="789.9" y="742.6" width="1.2" height="7.7" fill="#ff0066"/>
<rect x="798.9" y="741.7" width="1.2" height="8.5" fill="#ff0066"/>
<rect x="806.9" y="741.0" width="1.2" height="9.2" fill="#ff0066"/>
<rect x="814.9" y="742.1" width="1.2" height="8.1" fill="#ff0066"/>
<rect x="822.9" y="743.0" width="1.2" height="7.2" fill="#ff0066"/>
<rect x="831.9" y="743.9" width="1.2" height="6.3" fill="#ff0066"/>
<rect x="839.9" y="743.0" width="1.2" height="7.2" fill="#ff0066"/>
<rect x="847.9" y="743.2" width="1.2" height="7.0" fill="#ff0066"/>
<rect x="855.9" y="744.1" width="1.2" height="6.1" fill="#ff0066"/>
<rect x="864.9" y="745.2" width="1.2" height="5.0" fill="#ff0066"/>
<rect x="872.9" y="746.5" width="1.2" height="3.7" fill="#ff0066"/>
<rect x="880.9" y="748.3" width="1.2" height="2.0" fill="#ff0066"/>
<rect x="888.9" y="748.5" width="1.2" height="1.8" fill="#ff0066"/>
<rect x="896.9" y="748.5" width="1.2" height="1.8" fill="#ff0066"/>
<rect x="905.9" y="748.3" width="1.2" height="2.0" fill="#ff0066"/>
<rect x="913.9" y="748.3" width="1.2" height="2.0" fill="#ff0066"/>
<rect x="921.9" y="748.5" width="1.2" height="1.8" fill="#ff0066"/>
<rect x="929.9" y="749.6" width="1.2" height="0.7" fill="#ff0066"/>
<rect x="938.9" y="749.6" width="1.2" height="0.7" fill="#ff0066"/>
<rect x="946.9" y="749.6" width="1.2" height="0.7" fill="#ff0066"/>
<rect x="954.9" y="749.7" width="1.2" height="1" fill="#ff0066"/>
<rect x="962.9" y="749.7" width="1.2" height="1" fill="#ff0066"/>
<rect x="971.9" y="749.7" width="1.2" height="1" fill="#ff0066"/>
<rect x="979.9" y="750.2" width="1.2" height="1.1" fill="#ff0066"/>
<rect x="987.9" y="750.2" width="1.2" height="0.9" fill="#ff0066"/>
<rect x="995.9" y="749.4" width="1.2" height="0.9" fill="#ff0066"/>
<rect x="1003.9" y="746.7" width="1.2" height="3.5" fill="#ff0066"/>
<rect x="1012.9" y="745.4" width="1.2" height="4.8" fill="#ff0066"/>
<rect x="1020.9" y="743.2" width="1.2" height="7.0" fill="#ff0066"/>
<rect x="1028.9" y="740.8" width="1.2" height="9.4" fill="#ff0066"/>
<rect x="1036.9" y="739.7" width="1.2" height="10.5" fill="#ff0066"/>
<rect x="1045.9" y="739.9" width="1.2" height="10.3" fill="#ff0066"/>
<rect x="1053.9" y="740.2" width="1.2" height="10.1" fill="#ff0066"/>
<rect x="1061.9" y="741.0" width="1.2" height="9.2" fill="#ff0066"/>
<rect x="1069.9" y="743.0" width="1.2" height="7.2" fill="#ff0066"/>
<rect x="1078.9" y="745.6" width="1.2" height="4.6" fill="#ff0066"/>
<rect x="1086.9" y="746.3" width="1.2" height="3.9" fill="#ff0066"/>
<rect x="1094.9" y="748.3" width="1.2" height="2.0" fill="#ff0066"/>
<rect x="1102.9" y="749.1" width="1.2" height="1.1" fill="#ff0066"/>
<rect x="1110.9" y="749.7" width="1.2" height="1" fill="#ff0066"/>
<rect x="1119.9" y="748.9" width="1.2" height="1.3" fill="#ff0066"/>
<rect x="1127.9" y="749.7" width="1.2" height="1" fill="#ff0066"/>
<rect x="1135.9" y="750.2" width="1.2" height="0.9" fill="#ff0066"/>
<rect x="1143.9" y="750.2" width="1.2" height="2.0" fill="#ff0066"/>
<path d="M7.9 757.5 L16.4 757.5 L24.1 757.2 L32.8 756.8 L40.5 756.1 L50.3 755.3 L57.3 754.4 L65.6 753.3 L74.4 752.4 L82.1 751.3 L90.4 749.6 L98.5 747.8 L106.6 746.3 L114.9 744.5 L123.6 743.4 L131.3 742.6 L140.0 741.5 L147.7 741.0 L156.5 740.6 L164.1 740.6 L172.9 741.5 L181.0 741.5 L189.3 741.5 L197.6 742.4 L205.7 743.4 L214.0 744.5 L222.1 745.2 L230.2 745.6 L238.5 746.5 L246.6 747.4 L254.9 748.3 L263.2 749.1 L271.3 750.2 L279.6 751.1 L287.7 751.8 L295.4 752.2 L304.2 752.4 L312.9 752.4 L320.6 752.4 L328.7 752.4 L337.0 752.4 L345.3 751.3 L353.8 750.7 L362.1 750.2 L370.5 750.0 L378.6 749.6 L386.7 748.9 L394.8 746.9 L403.6 745.2 L411.9 741.9 L420.6 738.6 L428.3 735.4 L437.0 732.5 L444.7 729.9 L453.5 726.6 L461.1 724.0 L469.2 722.2 L477.5 721.6 L485.6 721.3 L493.9 721.6 L501.6 722.4 L509.9 723.3 L518.4 724.4 L526.8 726.2 L534.4 728.1 L542.5 729.4 L551.3 731.4 L559.1 733.2 L567.7 734.3 L576.0 735.4 L584.1 736.2 L592.4 737.5 L600.5 739.7 L608.8 744.1 L617.6 748.5 L625.9 753.5 L634.0 758.3 L642.1 764.9 L650.4 771.5 L658.5 777.4 L666.8 783.9 L674.9 789.0 L683.2 792.7 L691.3 795.1 L699.6 796.2 L707.7 796.4 L716.0 796.4 L724.8 795.5 L732.5 793.3 L740.5 791.6 L748.9 789.6 L757.2 787.9 L765.3 786.1 L773.4 784.6 L781.7 782.4 L790.3 780.6 L798.6 779.1 L806.7 777.4 L815.0 775.2 L823.1 773.2 L831.4 771.5 L839.5 770.4 L847.8 768.2 L855.9 766.2 L864.2 764.2 L872.3 763.1 L880.7 762.3 L888.8 761.2 L897.1 761.2 L905.4 760.3 L913.5 759.4 L921.8 759.2 L929.9 758.3 L938.2 758.3 L946.3 758.3 L954.6 758.1 L962.7 757.7 L970.8 757.5 L979.1 757.2 L987.4 757.5 L995.5 757.5 L1003.6 757.5 L1011.9 756.6 L1020.3 755.5 L1028.4 754.4 L1036.5 752.4 L1044.8 750.7 L1052.9 748.5 L1061.2 746.3 L1069.3 743.4 L1077.6 741.9 L1085.9 740.4 L1094.0 739.3 L1102.3 738.6 L1110.4 737.8 L1119.2 737.5 L1127.5 737.5 L1135.6 737.5 L1143.7 737.3" stroke="#ff7f1e" stroke-width="1.4" fill="none" stroke-linejoin="round"/>
<path d="M7.9 755.3 L16.4 755.3 L24.1 756.8 L32.8 755.3 L40.5 753.3 L50.3 752.0 L57.3 748.9 L65.6 745.9 L74.4 744.5 L82.1 743.0 L90.4 741.9 L98.5 741.0 L106.6 739.3 L114.9 739.3 L123.6 739.3 L131.3 739.3 L140.0 740.6 L147.7 741.5 L156.5 742.4 L164.1 742.4 L172.9 743.4 L181.0 743.4 L189.3 743.4 L197.6 744.5 L205.7 746.3 L214.0 748.0 L222.1 749.1 L230.2 750.0 L238.5 749.1 L246.6 750.2 L254.9 751.3 L263.2 752.2 L271.3 753.3 L279.6 753.3 L287.7 753.3 L295.4 753.3 L304.2 752.4 L312.9 752.2 L320.6 751.3 L328.7 749.1 L337.0 749.1 L345.3 748.3 L353.8 748.3 L362.1 748.3 L370.5 748.3 L378.6 748.3 L386.7 747.2 L394.8 737.1 L403.6 731.0 L411.9 726.2 L420.6 723.3 L428.3 721.6 L437.0 720.3 L444.7 719.4 L453.5 719.4 L461.1 720.3 L469.2 721.6 L477.5 722.4 L485.6 723.8 L493.9 726.6 L501.6 728.8 L509.9 731.4 L518.4 732.5 L526.8 733.4 L534.4 734.3 L542.5 735.4 L551.3 736.4 L559.1 738.4 L567.7 739.5 L576.0 740.6 L584.1 741.3 L592.4 741.5 L600.5 750.7 L608.8 767.1 L617.6 778.0 L625.9 784.6 L634.0 790.7 L642.1 793.3 L650.4 796.2 L658.5 798.8 L666.8 800.3 L674.9 799.5 L683.2 798.2 L691.3 795.5 L699.6 794.4 L707.7 791.1 L716.0 789.4 L724.8 787.4 L732.5 785.7 L740.5 783.9 L748.9 782.4 L757.2 780.2 L765.3 778.7 L773.4 777.6 L781.7 776.3 L790.3 773.0 L798.6 770.6 L806.7 768.2 L815.0 767.1 L823.1 766.0 L831.4 765.1 L839.5 763.1 L847.8 761.2 L855.9 760.1 L864.2 759.2 L872.3 759.4 L880.7 760.3 L888.8 759.4 L897.1 759.4 L905.4 758.3 L913.5 757.5 L921.8 757.5 L929.9 757.7 L938.2 757.7 L946.3 757.7 L954.6 757.7 L962.7 757.9 L970.8 757.7 L979.1 758.3 L987.4 758.3 L995.5 756.6 L1003.6 753.9 L1011.9 751.8 L1020.3 748.5 L1028.4 745.0 L1036.5 741.9 L1044.8 740.4 L1052.9 738.4 L1061.2 737.1 L1069.3 736.2 L1077.6 737.3 L1085.9 736.4 L1094.0 737.3 L1102.3 737.5 L1110.4 737.3 L1119.2 736.2 L1127.5 737.3 L1135.6 738.4 L1143.7 739.3" stroke="#1e9bff" stroke-width="1.4" fill="none" stroke-linejoin="round"/>
<rect x="6" y="43" width="1816" height="1" fill="#404040"/>
<rect x="6" y="43" width="1" height="790" fill="#404040"/>
<rect x="1821" y="43" width="1" height="790" fill="#404040"/>
<rect x="6" y="832" width="1816" height="1" fill="#404040"/>
<rect x="1760" y="43" width="1" height="765" fill="#404040"/>
<rect x="6" y="619" width="1815" height="1" fill="#404040"/>
<rect x="6" y="713" width="1815" height="1" fill="#404040"/>
<rect x="6" y="807" width="1754" height="1" fill="#404040"/>
<rect x="1761" y="609" width="4" height="1" fill="#404040"/>
<text x="1769.3" y="613.6" font-family="Liberation Sans, sans-serif" font-size="11.2" fill="#454545" textLength="32.6" lengthAdjust="spacingAndGlyphs">3440.0</text>
<rect x="1761" y="574" width="4" height="1" fill="#404040"/>
<text x="1769.3" y="578.6" font-family="Liberation Sans, sans-serif" font-size="11.2" fill="#454545" textLength="32.6" lengthAdjust="spacingAndGlyphs">3460.0</text>
<rect x="1761" y="539" width="4" height="1" fill="#404040"/>
<text x="1769.3" y="543.7" font-family="Liberation Sans, sans-serif" font-size="11.2" fill="#454545" textLength="32.6" lengthAdjust="spacingAndGlyphs">3480.0</text>
<rect x="1761" y="504" width="4" height="1" fill="#404040"/>
<text x="1769.3" y="508.7" font-family="Liberation Sans, sans-serif" font-size="11.2" fill="#454545" textLength="32.6" lengthAdjust="spacingAndGlyphs">3500.0</text>
<rect x="1761" y="469" width="4" height="1" fill="#404040"/>
<text x="1769.3" y="473.7" font-family="Liberation Sans, sans-serif" font-size="11.2" fill="#454545" textLength="32.6" lengthAdjust="spacingAndGlyphs">3520.0</text>
<rect x="1761" y="434" width="4" height="1" fill="#404040"/>
<text x="1769.3" y="438.7" font-family="Liberation Sans, sans-serif" font-size="11.2" fill="#454545" textLength="32.6" lengthAdjust="spacingAndGlyphs">3540.0</text>
<rect x="1761" y="399" width="4" height="1" fill="#404040"/>
<text x="1769.3" y="403.8" font-family="Liberation Sans, sans-serif" font-size="11.2" fill="#454545" textLength="32.6" lengthAdjust="spacingAndGlyphs">3560.0</text>
<rect x="1761" y="364" width="4" height="1" fill="#404040"/>
<text x="1769.3" y="368.8" font-family="Liberation Sans, sans-serif" font-size="11.2" fill="#454545" textLength="32.6" lengthAdjust="spacingAndGlyphs">3580.0</text>
<rect x="1761" y="329" width="4" height="1" fill="#404040"/>
<text x="1769.3" y="333.8" font-family="Liberation Sans, sans-serif" font-size="11.2" fill="#454545" textLength="32.6" lengthAdjust="spacingAndGlyphs">3600.0</text>
<rect x="1761" y="294" width="4" height="1" fill="#404040"/>
<text x="1769.3" y="298.8" font-family="Liberation Sans, sans-serif" font-size="11.2" fill="#454545" textLength="32.6" lengthAdjust="spacingAndGlyphs">3620.0</text>
<rect x="1761" y="259" width="4" height="1" fill="#404040"/>
<text x="1769.3" y="263.9" font-family="Liberation Sans, sans-serif" font-size="11.2" fill="#454545" textLength="32.6" lengthAdjust="spacingAndGlyphs">3640.0</text>
<rect x="1761" y="224" width="4" height="1" fill="#404040"/>
<text x="1769.3" y="228.9" font-family="Liberation Sans, sans-serif" font-size="11.2" fill="#454545" textLength="32.6" lengthAdjust="spacingAndGlyphs">3660.0</text>
<rect x="1761" y="189" width="4" height="1" fill="#404040"/>
<text x="1769.3" y="193.9" font-family="Liberation Sans, sans-serif" font-size="11.2" fill="#454545" textLength="32.6" lengthAdjust="spacingAndGlyphs">3680.0</text>
<rect x="1761" y="154" width="4" height="1" fill="#404040"/>
<text x="1769.3" y="158.9" font-family="Liberation Sans, sans-serif" font-size="11.2" fill="#454545" textLength="32.6" lengthAdjust="spacingAndGlyphs">3700.0</text>
<rect x="1761" y="119" width="4" height="1" fill="#404040"/>
<text x="1769.3" y="124.0" font-family="Liberation Sans, sans-serif" font-size="11.2" fill="#454545" textLength="32.6" lengthAdjust="spacingAndGlyphs">3720.0</text>
<rect x="1761" y="84" width="4" height="1" fill="#404040"/>
<text x="1769.3" y="89.0" font-family="Liberation Sans, sans-serif" font-size="11.2" fill="#454545" textLength="32.6" lengthAdjust="spacingAndGlyphs">3740.0</text>
<rect x="1761" y="49" width="4" height="1" fill="#404040"/>
<text x="1769.3" y="54.0" font-family="Liberation Sans, sans-serif" font-size="11.2" fill="#454545" textLength="32.6" lengthAdjust="spacingAndGlyphs">3760.0</text>
<rect x="1761" y="634" width="4" height="1" fill="#404040"/>
<text x="1769.3" y="638.9" font-family="Liberation Sans, sans-serif" font-size="11.2" fill="#454545" textLength="38.5" lengthAdjust="spacingAndGlyphs">75.0000</text>
<rect x="1761" y="664" width="4" height="1" fill="#404040"/>
<text x="1769.3" y="668.9" font-family="Liberation Sans, sans-serif" font-size="11.2" fill="#454545" textLength="38.5" lengthAdjust="spacingAndGlyphs">50.0000</text>
<rect x="1761" y="695" width="4" height="1" fill="#404040"/>
<text x="1769.3" y="699.9" font-family="Liberation Sans, sans-serif" font-size="11.2" fill="#454545" textLength="38.5" lengthAdjust="spacingAndGlyphs">25.0000</text>
<rect x="1761" y="721" width="4" height="1" fill="#404040"/>
<text x="1769.3" y="725.9" font-family="Liberation Sans, sans-serif" font-size="11.2" fill="#454545" textLength="38.5" lengthAdjust="spacingAndGlyphs">25.0000</text>
<rect x="1761" y="750" width="4" height="1" fill="#404040"/>
<text x="1769.3" y="754.9" font-family="Liberation Sans, sans-serif" font-size="11.2" fill="#454545" textLength="32.3" lengthAdjust="spacingAndGlyphs">0.0000</text>
<rect x="1761" y="778" width="4" height="1" fill="#404040"/>
<text x="1769.3" y="782.9" font-family="Liberation Sans, sans-serif" font-size="11.2" fill="#454545" textLength="42.3" lengthAdjust="spacingAndGlyphs">-25.0000</text>
<rect x="1761" y="355.2" width="50" height="16.8" fill="#ff0000"/>
<rect x="1761" y="363.1" width="3.5" height="1" fill="#fff"/>
<text x="1769.2" y="366.9" font-family="Liberation Sans, sans-serif" font-size="11.3" font-weight="bold" fill="#fff" textLength="32.3" lengthAdjust="spacingAndGlyphs">3580.9</text>
<rect x="1761" y="372.0" width="50" height="16.8" fill="#0000ff"/>
<rect x="1761" y="379.9" width="3.5" height="1" fill="#fff"/>
<text x="1769.2" y="383.7" font-family="Liberation Sans, sans-serif" font-size="11.3" font-weight="bold" fill="#fff" textLength="32.3" lengthAdjust="spacingAndGlyphs">3577.3</text>
<rect x="1761" y="388.8" width="50" height="1.4" fill="#fff"/>
<rect x="1771" y="390.2" width="40" height="16.8" fill="#0000ff"/>
<text x="1775.3" y="401.9" font-family="Liberation Sans, sans-serif" font-size="11.3" font-weight="bold" fill="#fff" textLength="27.5" lengthAdjust="spacingAndGlyphs">13:34</text>
<rect x="1761" y="407.0" width="50" height="16.8" fill="#ff0000"/>
<rect x="1761" y="414.9" width="3.5" height="1" fill="#fff"/>
<text x="1769.2" y="418.7" font-family="Liberation Sans, sans-serif" font-size="11.3" font-weight="bold" fill="#fff" textLength="32.3" lengthAdjust="spacingAndGlyphs">3555.2</text>
<rect x="1761" y="525.1" width="50" height="16.8" fill="#ff0000"/>
<rect x="1761" y="533.0" width="3.5" height="1" fill="#fff"/>
<text x="1769.2" y="536.8" font-family="Liberation Sans, sans-serif" font-size="11.3" font-weight="bold" fill="#fff" textLength="32.3" lengthAdjust="spacingAndGlyphs">3483.9</text>
<clipPath id="tc"><rect x="7" y="807" width="1754" height="30"/></clipPath><g clip-path="url(#tc)">
<rect x="17" y="808" width="1" height="3" fill="#404040"/>
<text x="4.4" y="825.2" font-family="Liberation Sans, sans-serif" font-size="11.2" fill="#454545" textLength="26.2" lengthAdjust="spacingAndGlyphs">12:00</text>
<rect x="115" y="808" width="1" height="3" fill="#404040"/>
<text x="109.7" y="825.2" font-family="Liberation Sans, sans-serif" font-size="11.2" fill="#454545" textLength="11.6" lengthAdjust="spacingAndGlyphs">18</text>
<rect x="214" y="808" width="1" height="3" fill="#404040"/>
<text x="201.4" y="825.2" font-family="Liberation Sans, sans-serif" font-size="11.2" fill="#454545" textLength="26.2" lengthAdjust="spacingAndGlyphs">12:00</text>
<rect x="313" y="808" width="1" height="3" fill="#404040"/>
<text x="307.7" y="825.2" font-family="Liberation Sans, sans-serif" font-size="11.2" fill="#454545" textLength="11.6" lengthAdjust="spacingAndGlyphs">19</text>
<rect x="412" y="808" width="1" height="3" fill="#404040"/>
<text x="399.4" y="825.2" font-family="Liberation Sans, sans-serif" font-size="11.2" fill="#454545" textLength="26.2" lengthAdjust="spacingAndGlyphs">12:00</text>
<rect x="511" y="808" width="1" height="3" fill="#404040"/>
<text x="505.7" y="825.2" font-family="Liberation Sans, sans-serif" font-size="11.2" fill="#454545" textLength="11.6" lengthAdjust="spacingAndGlyphs">20</text>
<rect x="609" y="808" width="1" height="3" fill="#404040"/>
<text x="596.4" y="825.2" font-family="Liberation Sans, sans-serif" font-size="11.2" fill="#454545" textLength="26.2" lengthAdjust="spacingAndGlyphs">12:00</text>
<rect x="708" y="808" width="1" height="3" fill="#404040"/>
<text x="702.7" y="825.2" font-family="Liberation Sans, sans-serif" font-size="11.2" fill="#454545" textLength="11.6" lengthAdjust="spacingAndGlyphs">21</text>
<rect x="807" y="808" width="1" height="3" fill="#404040"/>
<text x="794.4" y="825.2" font-family="Liberation Sans, sans-serif" font-size="11.2" fill="#454545" textLength="26.2" lengthAdjust="spacingAndGlyphs">12:00</text>
<rect x="906" y="808" width="1" height="3" fill="#404040"/>
<text x="900.7" y="825.2" font-family="Liberation Sans, sans-serif" font-size="11.2" fill="#454545" textLength="11.6" lengthAdjust="spacingAndGlyphs">22</text>
<rect x="1004" y="808" width="1" height="3" fill="#404040"/>
<text x="991.4" y="825.2" font-family="Liberation Sans, sans-serif" font-size="11.2" fill="#454545" textLength="26.2" lengthAdjust="spacingAndGlyphs">12:00</text>
<rect x="1103" y="808" width="1" height="3" fill="#404040"/>
<text x="1097.7" y="825.2" font-family="Liberation Sans, sans-serif" font-size="11.2" fill="#454545" textLength="11.6" lengthAdjust="spacingAndGlyphs">23</text>
<rect x="1202" y="808" width="1" height="3" fill="#404040"/>
<text x="1189.4" y="825.2" font-family="Liberation Sans, sans-serif" font-size="11.2" fill="#454545" textLength="26.2" lengthAdjust="spacingAndGlyphs">12:00</text>
<rect x="1301" y="808" width="1" height="3" fill="#404040"/>
<text x="1295.7" y="825.2" font-family="Liberation Sans, sans-serif" font-size="11.2" fill="#454545" textLength="11.6" lengthAdjust="spacingAndGlyphs">24</text>
<rect x="1399" y="808" width="1" height="3" fill="#404040"/>
<text x="1386.4" y="825.2" font-family="Liberation Sans, sans-serif" font-size="11.2" fill="#454545" textLength="26.2" lengthAdjust="spacingAndGlyphs">12:00</text>
<rect x="1498" y="808" width="1" height="3" fill="#404040"/>
<text x="1492.7" y="825.2" font-family="Liberation Sans, sans-serif" font-size="11.2" fill="#454545" textLength="11.6" lengthAdjust="spacingAndGlyphs">25</text>
<rect x="1597" y="808" width="1" height="3" fill="#404040"/>
<text x="1584.4" y="825.2" font-family="Liberation Sans, sans-serif" font-size="11.2" fill="#454545" textLength="26.2" lengthAdjust="spacingAndGlyphs">12:00</text>
<rect x="1696" y="808" width="1" height="3" fill="#404040"/>
<text x="1690.7" y="825.2" font-family="Liberation Sans, sans-serif" font-size="11.2" fill="#454545" textLength="11.6" lengthAdjust="spacingAndGlyphs">26</text>
</g>
<text x="15" y="64.7" font-family="Liberation Sans, sans-serif" font-size="12.6" font-weight="bold" fill="#4a4a4a" textLength="135.5" lengthAdjust="spacingAndGlyphs">XBT / USD, 60, KRAKEN</text>
<text x="15.3" y="81.8" font-family="Liberation Sans, sans-serif" font-size="12.6" fill="#555" textLength="86.5" lengthAdjust="spacingAndGlyphs">MA (100, close)</text>
<text x="15.3" y="640.8" font-family="Liberation Sans, sans-serif" font-size="12.6" fill="#555" textLength="77.5" lengthAdjust="spacingAndGlyphs">RSI (14, close)</text>
<text x="15.3" y="734.8" font-family="Liberation Sans, sans-serif" font-size="12.6" fill="#555" textLength="130.5" lengthAdjust="spacingAndGlyphs">MACD (12, 26, close, 9)</text>
<text x="6.3" y="16.8" font-family="Liberation Sans, sans-serif" font-size="13.2" fill="#3fadE4" textLength="75.7" lengthAdjust="spacingAndGlyphs">aayushjindal</text>
<text x="85.5" y="16.8" font-family="Liberation Sans, sans-serif" font-size="13.2" fill="#111" textLength="352.5" lengthAdjust="spacingAndGlyphs">published on TradingView.com, January 23, 2019 05:46:30 UTC</text>
<text x="6.6" y="33.9" font-family="Liberation Sans, sans-serif" font-size="13.2" font-weight="bold" fill="#111" textLength="120.2" lengthAdjust="spacingAndGlyphs">KRAKEN:XBTUSD, 60</text>
<text x="132.6" y="33.9" font-family="Liberation Sans, sans-serif" font-size="13.2" fill="#111" textLength="37.6" lengthAdjust="spacingAndGlyphs">3577.3</text>
<path d="M173.8 34.8L179.5 23.8L185.2 34.8Z" fill="#08a008"/>
<text x="188.6" y="33.9" font-family="Liberation Sans, sans-serif" font-size="13.2" fill="#111" textLength="77.2" lengthAdjust="spacingAndGlyphs">+1.5 (+0.04%)</text>
<text x="270.4" y="33.9" font-family="Liberation Sans, sans-serif" font-size="13.2" font-weight="bold" fill="#111" textLength="12.0" lengthAdjust="spacingAndGlyphs">O:</text>
<text x="284.8" y="33.9" font-family="Liberation Sans, sans-serif" font-size="13.2" fill="#16aa16" textLength="37.7" lengthAdjust="spacingAndGlyphs">3572.2</text>
<text x="327.5" y="33.9" font-family="Liberation Sans, sans-serif" font-size="13.2" font-weight="bold" fill="#111" textLength="11.7" lengthAdjust="spacingAndGlyphs">H:</text>
<text x="341.3" y="33.9" font-family="Liberation Sans, sans-serif" font-size="13.2" fill="#16aa16" textLength="38.4" lengthAdjust="spacingAndGlyphs">3580.4</text>
<text x="384.7" y="33.9" font-family="Liberation Sans, sans-serif" font-size="13.2" font-weight="bold" fill="#111" textLength="8.6" lengthAdjust="spacingAndGlyphs">L:</text>
<text x="395.3" y="33.9" font-family="Liberation Sans, sans-serif" font-size="13.2" fill="#16aa16" textLength="38.2" lengthAdjust="spacingAndGlyphs">3572.2</text>
<text x="438.4" y="33.9" font-family="Liberation Sans, sans-serif" font-size="13.2" font-weight="bold" fill="#111" textLength="10.1" lengthAdjust="spacingAndGlyphs">C:</text>
<text x="450.5" y="33.9" font-family="Liberation Sans, sans-serif" font-size="13.2" fill="#16aa16" textLength="37.7" lengthAdjust="spacingAndGlyphs">3577.3</text>
<text x="6.4" y="855.9" font-family="Liberation Sans, sans-serif" font-size="13.4" fill="#111" textLength="72.2" lengthAdjust="spacingAndGlyphs">Created with</text>
<g fill="#57bfe8"><circle cx="93.5" cy="849.6" r="5.6"/><circle cx="87.3" cy="853.4" r="4.6"/><circle cx="100.6" cy="853.0" r="5.0"/><rect x="87.3" y="851" width="13.3" height="7" /></g>
<path d="M83.5 856.2L89.4 850.8L96.2 856.0L100.8 851.2" stroke="#fff" stroke-width="1.9" fill="none" stroke-linejoin="round"/>
<text x="106.6" y="855.9" font-family="Liberation Sans, sans-serif" font-size="13.4" fill="#57bfe8" textLength="70.2" lengthAdjust="spacingAndGlyphs">TradingView</text>
</svg>
</body></html>
